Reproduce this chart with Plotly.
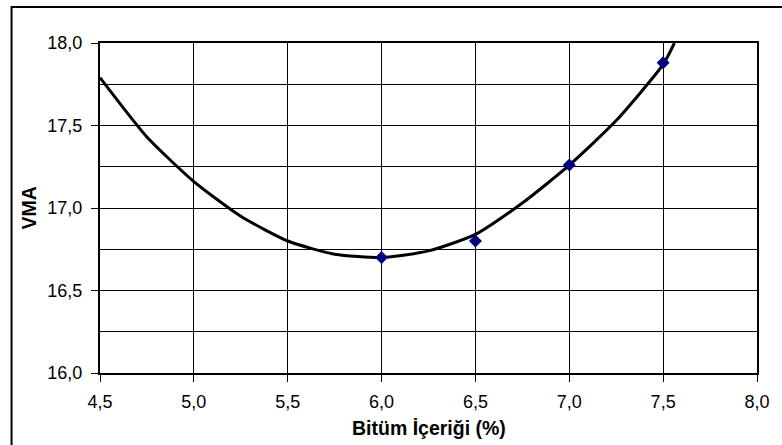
import plotly.graph_objects as go

# Measured data points (Bitüm İçeriği %, VMA)
bitum = [6.0, 6.5, 7.0, 7.5]
vma = [16.70, 16.80, 17.26, 17.88]

# Trend curve
curve_x = [4.5, 4.75, 5.0, 5.25, 5.5, 5.75, 6.0, 6.25, 6.5, 6.75, 7.0, 7.25, 7.5, 7.56]
curve_y = [17.79, 17.43, 17.16, 16.95, 16.80, 16.72, 16.70, 16.74, 16.84, 17.03, 17.26, 17.53, 17.87, 18.0]

x_ticks = [4.5, 5.0, 5.5, 6.0, 6.5, 7.0, 7.5, 8.0]
y_ticks = [16.0, 16.5, 17.0, 17.5, 18.0]

FONT = "Liberation Sans, Arial, sans-serif"

fig = go.Figure()
fig.add_trace(go.Scatter(x=curve_x, y=curve_y, mode="lines",
                         line=dict(color="black", width=3, shape="spline", smoothing=0.6),
                         hoverinfo="skip", showlegend=False))
fig.add_trace(go.Scatter(x=bitum, y=vma, mode="markers",
                         marker=dict(symbol="diamond", size=10, color="#000080"),
                         showlegend=False))

L, R, T, B = 100, 21, 43, 72
W, H = 782, 445
pw, ph = W - L - R, H - T - B

fig.update_layout(
    width=W, height=H,
    margin=dict(l=L, r=R, t=T, b=B, pad=0),
    paper_bgcolor="white", plot_bgcolor="white",
    separators=",.",
    font=dict(family=FONT, size=18, color="black"),
    xaxis=dict(range=[4.5, 8.0], tickvals=x_ticks, tickformat=".1f",
               showgrid=True, gridcolor="black", gridwidth=1,
               showline=True, linecolor="black", linewidth=2, mirror=True,
               ticks="outside", ticklen=7, tickwidth=1, tickcolor="black",
               ticklabelstandoff=4,
               zeroline=False, fixedrange=True),
    yaxis=dict(range=[16.0, 18.0], tickvals=y_ticks, tickformat=".1f",
               showgrid=True, gridcolor="black", gridwidth=1,
               minor=dict(dtick=0.25, tick0=16.0, showgrid=True, gridcolor="black", gridwidth=1, ticks=""),
               showline=True, linecolor="black", linewidth=2, mirror=True,
               ticks="outside", ticklen=7, tickwidth=1, tickcolor="black",
               ticklabelstandoff=5,
               zeroline=False, fixedrange=True),
    annotations=[
        dict(text="<b>Bitüm İçeriği (%)</b>", xref="paper", yref="paper",
             x=0.5, y=(T + ph - 428) / ph, xanchor="center", yanchor="middle",
             showarrow=False, font=dict(family=FONT, size=19.5, color="black")),
        dict(text="<b>VMA</b>", xref="paper", yref="paper",
             x=(29 - L) / pw, y=0.5, xanchor="center", yanchor="middle",
             textangle=-90, showarrow=False, font=dict(family=FONT, size=19.5, color="black")),
    ],
    shapes=[
        dict(type="rect", xref="paper", yref="paper",
             x0=(11 - L) / pw, x1=1.5, y0=-0.6, y1=1 + (T - 7) / ph,
             line=dict(color="black", width=2), fillcolor="rgba(0,0,0,0)", layer="below"),
    ],
)

fig.write_html("out.html", config={"displayModeBar": False},
               post_script="document.body.style.margin='0';document.body.style.padding='0';")
